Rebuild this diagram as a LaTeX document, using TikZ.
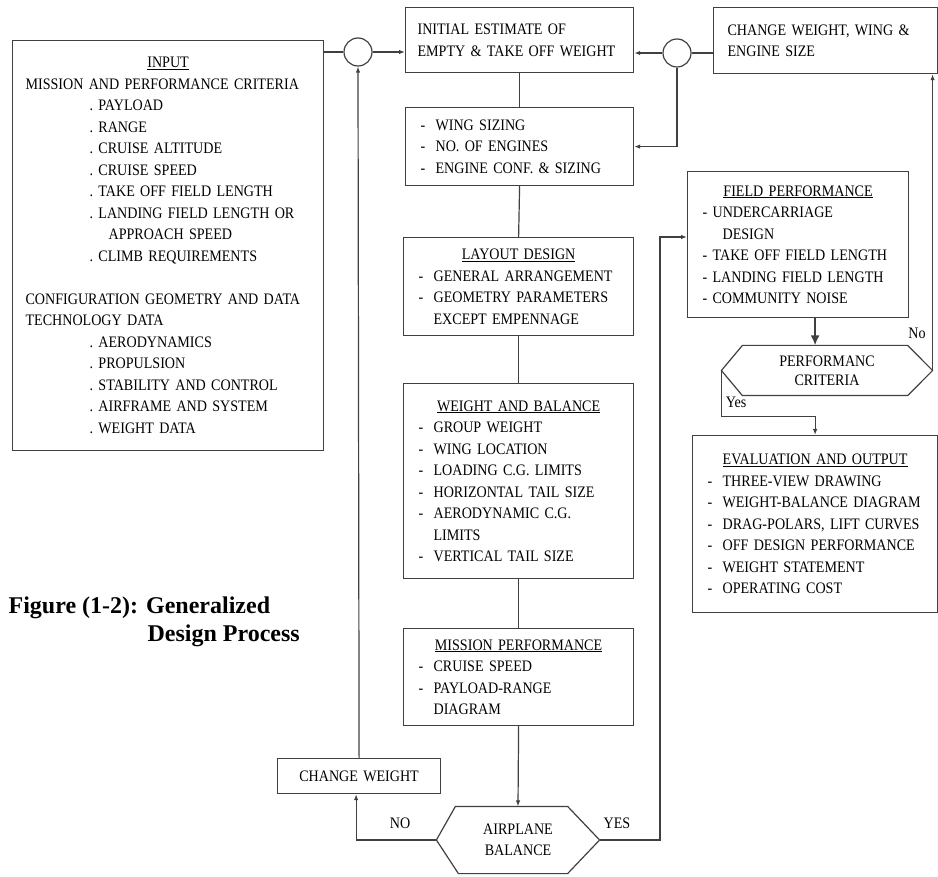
\documentclass[tikz,border=0pt]{standalone}
\usepackage{fontspec}
\setmainfont{Liberation Serif}[FakeStretch=0.88]
\newfontfamily\capfont{Liberation Serif}
\usetikzlibrary{arrows.meta}
% box text helpers
\newcommand{\hd}[1]{\makebox[\hsize]{\underline{#1}}}
\newcommand{\itm}[2][15pt]{\mbox{\makebox[#1][l]{-}#2}}
\newcommand{\bul}[1]{\mbox{\hspace*{64pt}.\ #1}}
\newcommand{\cnt}[2][15pt]{\mbox{\hspace*{#1}#2}}

\begin{document}
\begin{tikzpicture}[x=1pt, y=-1pt, line width=1.2pt, color=black!75, >={Latex[length=6pt,width=4.5pt]},
  every node/.style={font=\fontsize{16}{21.5}\selectfont, text=black},
  blk/.style={draw, anchor=north west, align=left, inner xsep=15pt, inner ysep=0pt},
  hexa/.style={inner sep=0pt, align=center},
  circ/.style={draw, circle, minimum size=28pt, inner sep=0pt},
  lbl/.style={inner sep=0pt}]
	\useasboundingbox (0,0) rectangle (938,877);
	% boxes
	\node[blk, inner xsep=13pt, text width=285pt, minimum height=410pt] (input) at (12,40) {\hd{INPUT}\\MISSION AND PERFORMANCE CRITERIA\\\bul{PAYLOAD}\\\bul{RANGE}\\\bul{CRUISE ALTITUDE}\\\bul{CRUISE SPEED}\\\bul{TAKE OFF FIELD LENGTH}\\\bul{LANDING FIELD LENGTH OR}\\\cnt[83pt]{APPROACH SPEED}\\\bul{CLIMB REQUIREMENTS}\\[21.5pt]\mbox{CONFIGURATION GEOMETRY AND DATA}\\TECHNOLOGY DATA\\\bul{AERODYNAMICS}\\\bul{PROPULSION}\\\bul{STABILITY AND CONTROL}\\\bul{AIRFRAME AND SYSTEM}\\\bul{WEIGHT DATA}};
	\node[blk, inner xsep=12pt, text width=204pt, minimum height=65pt] (init) at (405,7) {INITIAL ESTIMATE OF\\EMPTY \& TAKE OFF WEIGHT};
	\node[blk, text width=198pt, minimum height=78pt] (wing) at (405,107) {\itm{WING SIZING}\\\itm{NO. OF ENGINES}\\\itm{ENGINE CONF.\ \& SIZING}};
	\node[blk, inner xsep=14pt, text width=196pt, minimum height=66pt] (chg) at (713,7) {CHANGE WEIGHT, WING \&\\ENGINE SIZE};
	\node[blk, text width=200pt, minimum height=98pt] (layout) at (403,237) {\hd{LAYOUT DESIGN}\\\itm{GENERAL ARRANGEMENT}\\\itm{GEOMETRY PARAMETERS}\\\cnt{EXCEPT EMPENNAGE}};
	\node[blk, text width=200pt, minimum height=195pt] (wb) at (403,383) {\hd{WEIGHT AND BALANCE}\\\itm{GROUP WEIGHT}\\\itm{WING LOCATION}\\\itm{LOADING C.G. LIMITS}\\\itm{HORIZONTAL TAIL SIZE}\\\itm{AERODYNAMIC C.G.}\\\cnt{LIMITS}\\\itm{VERTICAL TAIL SIZE}};
	\node[blk, text width=200pt, minimum height=97pt] (mission) at (403,628) {\hd{MISSION PERFORMANCE}\\\itm{CRUISE SPEED}\\\itm{PAYLOAD-RANGE}\\\cnt{DIAGRAM}};
	\node[blk, text width=191pt, minimum height=146pt] (field) at (687,171) {\hd{FIELD PERFORMANCE}\\\itm[10pt]{UNDERCARRIAGE}\\\cnt[20pt]{DESIGN}\\\itm[10pt]{TAKE OFF FIELD LENGTH}\\\itm[10pt]{LANDING FIELD LENGTH}\\\itm[10pt]{COMMUNITY NOISE}};
	\node[blk, text width=215pt, minimum height=177pt] (eval) at (692,435) {\hd{EVALUATION AND OUTPUT}\\\itm{THREE-VIEW DRAWING}\\\itm{WEIGHT-BALANCE DIAGRAM}\\\itm{DRAG-POLARS, LIFT CURVES}\\\itm{OFF DESIGN PERFORMANCE}\\\itm{WEIGHT STATEMENT}\\\itm{OPERATING COST}};
	\node[blk, align=center, inner xsep=8pt, text width=147pt, minimum height=35pt] (chw) at (277,758) {CHANGE WEIGHT};
	% decisions
	\node[hexa, minimum width=162pt, minimum height=66pt] (bal) at (518,840) {AIRPLANE\\BALANCE};
	\draw (bal.west) -- ([xshift=19pt]bal.north west) -- ([xshift=-32pt]bal.north east) -- (bal.east) -- ([xshift=-32pt]bal.south east) -- ([xshift=22pt]bal.south west) -- cycle;
	\node[hexa, font=\fontsize{16}{19}\selectfont, minimum width=210pt, minimum height=49pt] (perf) at (827,370.5) {PERFORMANC\\CRITERIA};
	\draw (perf.west) -- ([xshift=21pt]perf.north west) -- ([xshift=-25pt]perf.north east) -- (perf.east) -- ([xshift=-25pt]perf.south east) -- ([xshift=21pt]perf.south west) -- cycle;
	% summing points
	\node[circ] (c1) at (358,52) {};
	\node[circ] (c2) at (677,53) {};
	% connectors
	\draw (c1.west -| input.east) -- (c1.west);
	\draw[->] (c1.east) -- (c1.east -| init.west);
	\draw[->] (c2.west) -- (c2.west -| init.east);
	\draw (c2.east -| chg.west) -- (c2.east);
	\draw[->] (c2.south) |- (wing.east);
	\draw (init.south) -- (wing.north);
	\draw (wing.south) -- (layout.north);
	\draw (layout.south) -- (wb.north);
	\draw (wb.south) -- (mission.north);
	\draw[->] (mission.south) -- (bal.north);
	\draw[->] (bal.east) -- (660,840) -- (660,237) -- (field.west |- 0,237);
	\draw[->] (bal.west) -| ([xshift=-3pt]chw.south);
	\draw[->] (chw.north) -- (c1.south);
	\draw[line width=2.2pt, -{Latex[length=10pt,width=9pt]}] ([xshift=17pt]field.south) -- ([xshift=17pt]field.south |- perf.north);
	\draw[->] (perf.east) -- (perf.east |- chg.south);
	\draw[->] (perf.west) -- ++(0,46) -| (eval.north);
	% branch labels
	\node[lbl] (no1) at (917,333) {No};
	\node[lbl] (yes1) at (736,402) {Yes};
	\node[lbl] (yes2) at (617,823) {YES};
	\node[lbl] (no2) at (400,823) {NO};
	% caption
	\node[anchor=north west, inner sep=0pt, align=left, font=\capfont\bfseries\fontsize{24}{28}\selectfont] (cap) at (8,596) {Figure (1-2): Generalized\\\hspace*{139pt}Design Process};
\end{tikzpicture}
\end{document}
